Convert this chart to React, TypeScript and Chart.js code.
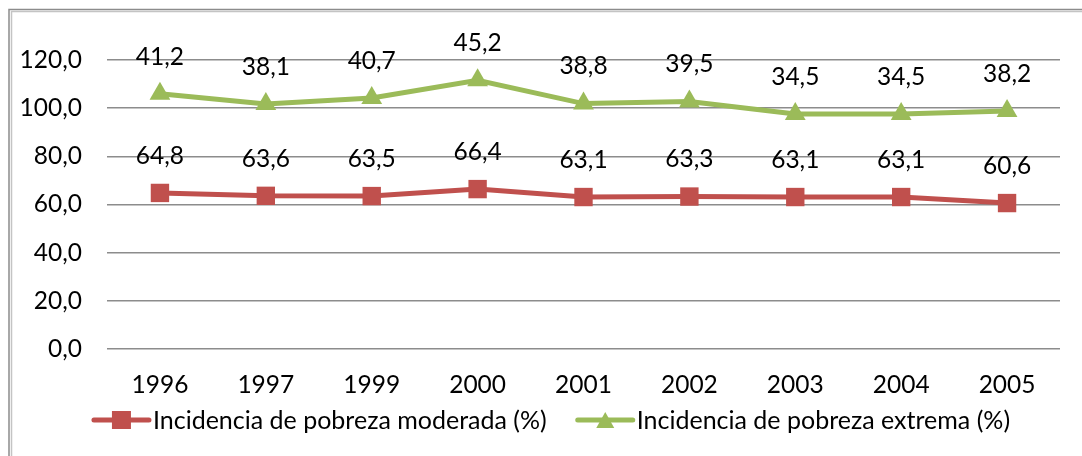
import React, { useEffect, useRef } from "react";
import { Chart, registerables } from "chart.js";

Chart.register(...registerables);

const years = ["1996", "1997", "1999", "2000", "2001", "2002", "2003", "2004", "2005"];
const moderada = [64.8, 63.6, 63.5, 66.4, 63.1, 63.3, 63.1, 63.1, 60.6];
const extrema = [41.2, 38.1, 40.7, 45.2, 38.8, 39.5, 34.5, 34.5, 38.2];
const seriesNames = ["Incidencia de pobreza moderada (%)", "Incidencia de pobreza extrema (%)"];
const yMin = 0;
const yMax = 120;
const yStep = 20;

const RED = "#C0504D";
const GREEN = "#9BBB59";
const FONT = "Lato";
const FS = 24.5;
const LFS = 25;

const fmt = (v: number) => v.toFixed(1).replace(".", ",");

const framePlugin = {
  id: "frame",
  beforeDraw(chart: any) {
    const ctx = chart.ctx;
    ctx.save();
    ctx.fillStyle = "#ffffff";
    ctx.fillRect(0, 0, chart.width, chart.height);
    ctx.lineWidth = 1.5;
    ctx.strokeStyle = "#8c8c8c";
    ctx.beginPath();
    ctx.moveTo(9, chart.height);
    ctx.lineTo(9, 9.5);
    ctx.lineTo(chart.width, 9.5);
    ctx.stroke();
    ctx.strokeStyle = "#c4c4c4";
    ctx.beginPath();
    ctx.moveTo(11.5, chart.height);
    ctx.lineTo(11.5, 11.5);
    ctx.lineTo(chart.width, 11.5);
    ctx.stroke();
    ctx.restore();
  },
};

const labelPlugin = {
  id: "valueLabels",
  afterDatasetsDraw(chart: any) {
    const ctx = chart.ctx;
    ctx.save();
    ctx.font = `${FS}px ${FONT}`;
    ctx.fillStyle = "#000";
    ctx.textAlign = "center";
    ctx.textBaseline = "middle";
    chart.data.datasets.forEach((ds: any, i: number) => {
      const meta = chart.getDatasetMeta(i);
      meta.data.forEach((pt: any, j: number) => {
        ctx.fillText(fmt(ds.data[j]), pt.x, pt.y - 37);
      });
    });
    ctx.restore();
  },
};

const legendPlugin = {
  id: "customLegend",
  afterDraw(chart: any) {
    const ctx = chart.ctx;
    ctx.save();
    ctx.font = `${LFS}px ${FONT}`;
    const lineLen = 55;
    const gapText = 4;
    const gapItems = 31;
    const widths = seriesNames.map((n) => ctx.measureText(n).width);
    const total = widths.reduce((a, w) => a + lineLen + gapText + w, 0) + gapItems;
    let x = 552 - total / 2;
    const y = 420;
    const colors = [RED, GREEN];
    seriesNames.forEach((name, i) => {
      ctx.strokeStyle = colors[i];
      ctx.fillStyle = colors[i];
      ctx.lineWidth = 5;
      ctx.lineCap = "round";
      ctx.beginPath();
      ctx.moveTo(x, y);
      ctx.lineTo(x + lineLen, y);
      ctx.stroke();
      const cx = x + lineLen / 2;
      if (i === 0) {
        ctx.fillRect(cx - 9.5, y - 9, 19, 18);
      } else {
        ctx.beginPath();
        ctx.moveTo(cx, y - 8);
        ctx.lineTo(cx + 9, y + 8);
        ctx.lineTo(cx - 9, y + 8);
        ctx.closePath();
        ctx.fill();
      }
      ctx.fillStyle = "#000";
      ctx.textAlign = "left";
      ctx.textBaseline = "middle";
      ctx.fillText(name, x + lineLen + gapText, y + 1);
      x += lineLen + gapText + widths[i] + gapItems;
    });
    ctx.restore();
  },
};

export default function App() {
  const ref = useRef<HTMLCanvasElement | null>(null);

  useEffect(() => {
    if (!ref.current) return;
    const chart = new Chart(ref.current, {
      type: "line",
      data: {
        labels: years,
        datasets: [
          {
            label: seriesNames[0],
            data: moderada,
            borderColor: RED,
            backgroundColor: RED,
            borderWidth: 5,
            pointStyle: "rect",
            pointRadius: 13,
            pointBorderWidth: 0,
            fill: false,
            tension: 0,
          },
          {
            label: seriesNames[1],
            data: extrema,
            borderColor: GREEN,
            backgroundColor: GREEN,
            borderWidth: 5,
            pointStyle: "triangle",
            pointRadius: 12,
            pointBorderWidth: 0,
            fill: false,
            tension: 0,
          },
        ],
      },
      options: {
        responsive: false,
        animation: false,
        devicePixelRatio: 1,
        layout: { padding: { top: 60, right: 22, bottom: 0, left: 0 } },
        plugins: {
          legend: { display: false },
          tooltip: { enabled: false },
        },
        scales: {
          x: {
            type: "category",
            offset: true,
            grid: { display: false, drawTicks: false },
            border: { display: false },
            ticks: {
              color: "#000",
              font: { family: FONT, size: FS },
              padding: 21,
              maxRotation: 0,
            },
            afterFit: (s: any) => {
              s.height = 107;
            },
          },
          y: {
            stacked: true,
            min: yMin,
            max: yMax,
            grid: { color: "#8c8c8c", lineWidth: 1.5, drawTicks: false },
            border: { display: false },
            ticks: {
              stepSize: yStep,
              color: "#000",
              font: { family: FONT, size: FS },
              padding: 25,
              callback: (v: any) => fmt(Number(v)),
            },
            afterFit: (s: any) => {
              s.width = 107;
            },
          },
        },
      },
      plugins: [framePlugin, labelPlugin, legendPlugin],
    });
    return () => chart.destroy();
  }, []);

  return (
    <div style={{ position: "absolute", left: 0, top: 0, width: 1082, height: 456 }}>
      <canvas ref={ref} width={1082} height={456} style={{ display: "block" }} />
    </div>
  );
}
